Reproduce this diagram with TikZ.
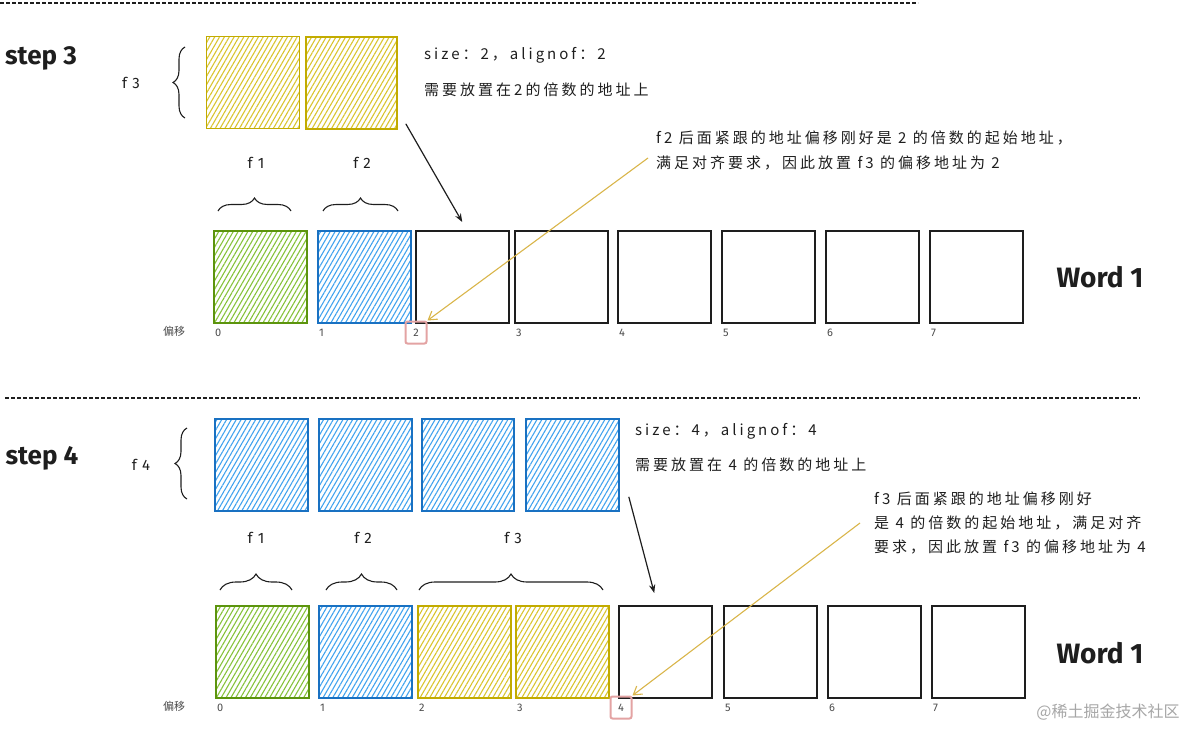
\documentclass[tikz,border=0pt]{standalone}
\usepackage{fontspec}
\setmainfont{Fira Sans}
\newfontfamily\cjk[LetterSpace=20]{Noto Sans CJK SC}
\newfontfamily\cjkplain{Noto Sans CJK SC}
\usetikzlibrary{calc,patterns.meta,decorations.pathreplacing,arrows.meta}

\definecolor{grnline}{HTML}{5C940D}
\definecolor{grnfill}{HTML}{86C23A}
\definecolor{bluline}{HTML}{1971C2}
\definecolor{blufill}{HTML}{42A3EE}
\definecolor{ylwline}{HTML}{C2AB00}
\definecolor{ylwfill}{HTML}{D9C430}
\definecolor{hotline}{HTML}{E3A3A3}
\definecolor{goldline}{HTML}{D9B54A}
\definecolor{inkline}{HTML}{1E1E1E}

\begin{document}
\begin{tikzpicture}[x=1pt, y=-1pt, >=Stealth,
  cell/.style={draw=inkline, line width=1.5pt, anchor=north west, inner sep=0pt,
    minimum width=93pt, minimum height=92pt},
  hatch/.style={pattern={Lines[angle=60,distance=4.2pt,line width=1.1pt]}, pattern color=#1},
  grn/.style={cell, draw=grnline, line width=1.8pt, hatch=grnfill},
  blu/.style={cell, draw=bluline, line width=1.8pt, hatch=blufill},
  ylw/.style={cell, draw=ylwline, line width=1.8pt, hatch=ylwfill},
  emp/.style={cell},
  brc/.style={decorate, decoration={brace, amplitude=#1}, line width=1.1pt, draw=inkline},
  sep/.style={dashed, dash pattern=on 4pt off 2pt, line width=1.6pt, draw=inkline},
  steplbl/.style={font=\bfseries\fontsize{26}{26}\selectfont, text=inkline},
  wordlbl/.style={font=\bfseries\fontsize{28}{28}\selectfont, text=inkline},
  flbl/.style={font=\fontsize{15}{15}\selectfont, text=inkline},
  info/.style={font=\cjk\fontsize{15}{15}\selectfont, text=inkline, anchor=west, inner sep=0pt},
  note/.style={font=\cjk\fontsize{15}{25}\selectfont, text=inkline, align=left, anchor=north west, inner sep=0pt},
  offs/.style={font=\fontsize{11}{11}\selectfont, text=inkline!80, inner sep=1pt},
  hot/.style={offs, draw=hotline, line width=2pt, rounded corners=2pt, minimum width=21pt, minimum height=22pt},
  blka/.style={->, line width=1.2pt, draw=inkline},
  golda/.style={-{Straight Barb[length=8pt,width=10pt]}, line width=1.1pt, draw=goldline}
]
\useasboundingbox (0,0) rectangle (1191,728);

% step 3
\draw[sep] (0,3) -- (918,3);
\node[steplbl] (s3) at (41,58) {step 3};
\node[flbl] (f3) at (131,83) {f\hspace{5pt}3};
\draw[brc=12] (185,118) -- (185,47);
\node[ylw] (t3-1) at (206,36) {};
\node[ylw, minimum width=91pt] (t3-2) at (305,36) {};
\node[info] (sz3) at (424,55) {size：2，alignof：2};
\node[info] (need3) at (424,90) {需要放置在2的倍数的地址上};
\node[note] (note3) at (656,131) {f2 后面紧跟的地址偏移刚好是 2 的倍数的起始地址，\\满足对齐要求，因此放置 f3 的偏移地址为 2};
\coordinate (n3tail) at (648,158);
\node[flbl] (l3-1) at (256,163) {f\hspace{5pt}1};
\node[flbl] (l3-2) at (362,163) {f\hspace{5pt}2};
\draw[brc=13] (218,211) -- (291,211);
\draw[brc=13] (323,211) -- (398,211);
\node[grn] (c3-0) at (213,230) {};
\node[blu] (c3-1) at (317,230) {};
\foreach \i/\x in {2/415,3/514,4/617,5/721,6/825,7/929}
  \node[emp] (c3-\i) at (\x,230) {};
\node[offs] (p3) at (174,331) {\cjkplain 偏移};
\foreach \i in {0,1,3,4,5,6,7}
  \node[offs, anchor=west] (o3-\i) at ($(c3-\i.south west)+(1,9)$) {\i};
\node[hot] (o3-2) at ($(c3-2.south west)+(1,9)$) {2};
\node[wordlbl] (w3) at (1100,277) {Word 1};
\draw[blka] ($(t3-2.south east)+(8,-6)$) -- ($(c3-2.north)+(0,-8)$);
\draw[golda] (n3tail) -- (o3-2.north east);

% step 4
\draw[sep] (5,398) -- (1140,398);
\node[steplbl] (s4) at (42,458) {step 4};
\node[flbl] (f4) at (141,465) {f\hspace{5pt}4};
\draw[brc=12] (187,499) -- (187,428);
\node[blu] (t4-1) at (214,418) {};
\node[blu] (t4-2) at (318,418) {};
\node[blu, minimum width=92pt] (t4-3) at (421,418) {};
\node[blu] (t4-4) at (525,418) {};
\node[info] (sz4) at (635,431) {size：4，alignof：4};
\node[info] (need4) at (635,465) {需要放置在 4 的倍数的地址上};
\node[note, font=\cjk\fontsize{15}{24}\selectfont] (note4) at (874,492) {f3 后面紧跟的地址偏移刚好\\是 4 的倍数的起始地址，满足对齐\\要求，因此放置 f3 的偏移地址为 4};
\coordinate (n4tail) at (860,523);
\node[flbl] (l4-1) at (256,538) {f\hspace{5pt}1};
\node[flbl] (l4-2) at (363,538) {f\hspace{5pt}2};
\node[flbl] (l4-3) at (513,538) {f\hspace{5pt}3};
\draw[brc=16] (220,590) -- (292,590);
\draw[brc=16] (326,590) -- (397,590);
\draw[brc=16] (419,590) -- (603,590);
\node[grn] (c4-0) at (215,605) {};
\node[blu] (c4-1) at (318,605) {};
\node[ylw] (c4-2) at (417,605) {};
\node[ylw] (c4-3) at (515,605) {};
\foreach \i/\x in {4/618,5/723,6/827,7/931}
  \node[emp] (c4-\i) at (\x,605) {};
\node[offs] (p4) at (174,706) {\cjkplain 偏移};
\foreach \i in {0,1,2,3,5,6,7}
  \node[offs, anchor=west] (o4-\i) at ($(c4-\i.south west)+(1,9)$) {\i};
\node[hot] (o4-4) at ($(c4-4.south west)+(3,9)$) {4};
\node[wordlbl] (w4) at (1100,653) {Word 1};
\draw[blka] ($(t4-4.south east)+(9,-15)$) -- ($(c4-4.north)+(-11,-12)$);
\draw[golda] (n4tail) -- (o4-4.north east);

\node[font=\cjkplain\fontsize{16}{16}\selectfont, text=black!35] (mark) at (1108,712) {@稀土掘金技术社区};
\end{tikzpicture}
\end{document}
